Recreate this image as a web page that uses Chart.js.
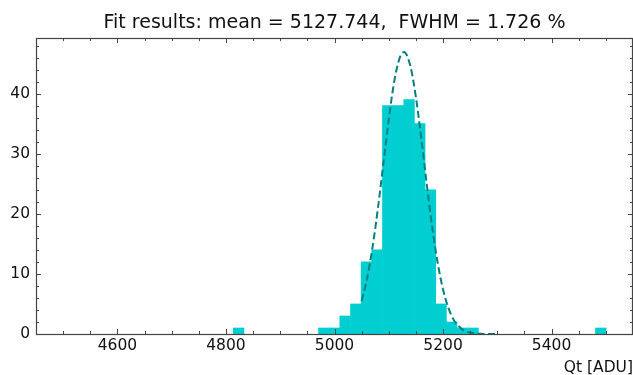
<!DOCTYPE html>
<html>
<head>
<meta charset="utf-8">
<script src="https://cdn.jsdelivr.net/npm/chart.js"></script>
<style>
  html, body { margin: 0; padding: 0; background: #fff; }
  canvas { display: block; }
</style>
</head>
<body>
<canvas id="fitChart" width="633" height="375"></canvas>
<script>
// histogram (35 bins of ~19.63 ADU, empty bins left out)
const binCenters = [4823.3, 4980.4, 5000.0, 5019.6, 5039.3, 5058.9, 5078.5, 5098.2,
                    5117.8, 5137.4, 5157.1, 5176.7, 5196.3, 5215.9, 5235.6, 5255.2, 5490.7];
const binCounts  = [1, 1, 1, 3, 5, 12, 14, 38, 38, 39, 35, 24, 5, 2, 1, 1, 1];

// dashed fit curve
const fitX = [5050, 5060, 5070, 5080, 5090, 5100, 5110, 5120, 5128, 5140, 5150, 5160,
              5170, 5180, 5190, 5200, 5210, 5220, 5230, 5240, 5250, 5260, 5270, 5280, 5290, 5300];
const fitY = [5.5, 9.2, 14.4, 20.9, 28.3, 35.7, 42.0, 45.9, 46.9, 44.5, 39.4, 32.5,
              24.9, 17.8, 11.9, 7.4, 4.3, 2.3, 1.2, 0.5, 0.24, 0.1, 0.04, 0.01, 0, 0];

// axis ticks
const xTicks = [4600, 4800, 5000, 5200, 5400];
const yTicks = [0, 10, 20, 30, 40];

const titleText = "Fit results: mean = 5127.744,  FWHM = 1.726 %";
const FONT = "'DejaVu Sans', sans-serif";

// frame with inward major/minor ticks on all four sides
const frameTicks = {
  id: 'frameTicks',
  afterDatasetsDraw(chart) {
    const {ctx, chartArea: a, scales: {x, y}} = chart;
    ctx.save();
    ctx.strokeStyle = '#444';
    ctx.lineWidth = 1;
    ctx.beginPath();
    for (let v = 4500; v < 5550; v += 50) {
      const px = Math.round(x.getPixelForValue(v)) + 0.5;
      const len = (v % 200 === 0) ? 5 : 3;
      ctx.moveTo(px, a.bottom); ctx.lineTo(px, a.bottom - len);
      ctx.moveTo(px, a.top); ctx.lineTo(px, a.top + len);
    }
    for (let v = 2; v < 49; v += 2) {
      const py = Math.round(y.getPixelForValue(v)) + 0.5;
      const len = (v % 10 === 0) ? 5 : 3;
      ctx.moveTo(a.left, py); ctx.lineTo(a.left + len, py);
      ctx.moveTo(a.right, py); ctx.lineTo(a.right - len, py);
    }
    ctx.stroke();
    ctx.lineWidth = 1.2;
    ctx.strokeRect(a.left + 0.5, a.top + 0.5, a.right - a.left - 1, a.bottom - a.top);
    ctx.restore();
  }
};

new Chart(document.getElementById('fitChart'), {
  type: 'bar',
  data: {
    datasets: [
      {
        type: 'line',
        label: 'fit',
        data: fitX.map((v, i) => ({x: v, y: fitY[i]})),
        borderColor: '#008080',
        borderWidth: 2,
        borderDash: [7, 3.5],
        pointRadius: 0,
        fill: false,
        cubicInterpolationMode: 'monotone',
        order: 0
      },
      {
        label: 'Qt',
        data: binCenters.map((v, i) => ({x: v, y: binCounts[i]})),
        backgroundColor: '#00CED1',
        borderWidth: 0,
        barPercentage: 1,
        categoryPercentage: 1,
        order: 1
      }
    ]
  },
  options: {
    responsive: false,
    animation: false,
    devicePixelRatio: 1,
    layout: { padding: 0 },
    plugins: {
      legend: { display: false },
      tooltip: { enabled: false },
      title: {
        display: true,
        text: titleText,
        fullSize: false,
        color: '#111',
        font: { family: FONT, size: 19, weight: 'normal' },
        padding: { top: 12, bottom: 3.2 }
      }
    },
    scales: {
      x: {
        type: 'linear',
        min: 4450,
        max: 5550,
        offset: false,
        grid: { display: false, drawTicks: false },
        border: { display: false },
        afterBuildTicks: s => { s.ticks = xTicks.map(v => ({value: v})); },
        afterFit: s => { s.height = 41; },
        ticks: {
          color: '#111',
          padding: 3,
          maxRotation: 0,
          font: { family: FONT, size: 15.5 },
          callback: v => String(v)
        },
        title: {
          display: true,
          text: 'Qt [ADU]',
          align: 'end',
          color: '#111',
          padding: { top: 0, bottom: -2.5 },
          font: { family: FONT, size: 15.5 }
        }
      },
      y: {
        min: 0,
        max: 49.25,
        grid: { display: false, drawTicks: false },
        border: { display: false },
        afterBuildTicks: s => { s.ticks = yTicks.map(v => ({value: v})); },
        afterFit: s => { s.width = 36; },
        ticks: {
          color: '#111',
          padding: 6,
          font: { family: FONT, size: 15.5 },
          callback: v => String(v)
        }
      }
    }
  },
  plugins: [frameTicks]
});
</script>
</body>
</html>
